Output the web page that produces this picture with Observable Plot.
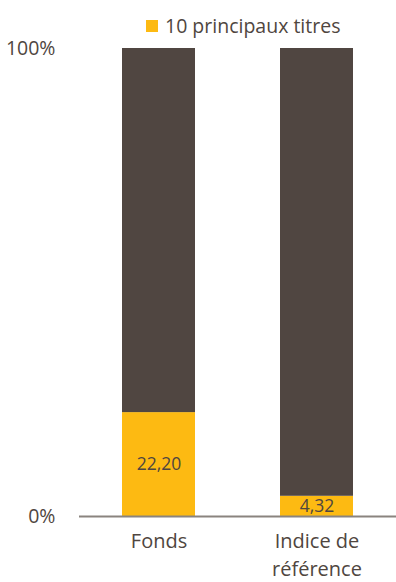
<!DOCTYPE html>
<html>
<head>
<meta charset="utf-8">
<script src="https://cdn.jsdelivr.net/npm/d3@7"></script>
<script src="https://cdn.jsdelivr.net/npm/@observablehq/plot@0.6"></script>
<style>
  body { margin: 0; background: #fff; font-family: "Open Sans", "Noto Sans", sans-serif; }
  #wrap { position: relative; width: 396px; height: 582px; }
  #legend { position: absolute; top: 12px; left: 146px; height: 26px; display: flex; align-items: center; color: #4f4640; font-size: 19.5px; white-space: nowrap; }
  #legend .sw { width: 12px; height: 12px; background: #FDBA12; margin-right: 7px; margin-top: 2px; }
  #chart svg { display: block; }
</style>
</head>
<body>
<div id="wrap">
<div id="chart"></div>
<div id="legend"><span class="sw"></span><span>10 principaux titres</span></div>
</div>
<script>
const categories = ["Fonds", "Indice de référence"];
const top10 = [22.20, 4.32];
const rest = [77.80, 95.68];
const valueLabels = ["22,20", "4,32"];
const tickLabels = ["0%", "100%"];
const tickValues = [0, 100];

const rows = [];
categories.forEach((c, i) => {
  rows.push({cat: c, series: "top", value: top10[i], label: valueLabels[i], order: 0});
  rows.push({cat: c, series: "rest", value: rest[i], label: "", order: 1});
});

const textColor = "#4f4640";
const chart = Plot.plot({
  width: 396,
  height: 582,
  marginTop: 48,
  marginBottom: 66,
  marginLeft: 79,
  marginRight: 0,
  style: {fontFamily: "'Open Sans', 'Noto Sans', sans-serif", fontSize: "17px", color: textColor, background: "#fff"},
  x: {domain: categories, paddingInner: 0.54, paddingOuter: 0.27, label: null, axis: null},
  y: {domain: [0, 100], label: null, axis: null},
  color: {domain: ["top", "rest"], range: ["#FDBA12", "#504641"]},
  marks: [
    Plot.barY(rows, Plot.stackY({x: "cat", y: "value", fill: "series", order: "order"})),
    Plot.text(rows.filter(d => d.label), {x: "cat", y: d => d.value / 2, text: "label", fill: textColor, fontSize: 17.5}),
    Plot.axisY({ticks: tickValues, tickFormat: (d) => tickLabels[tickValues.indexOf(d)], tickSize: 0, tickPadding: 24, fontSize: 19.5, label: null}),
    Plot.axisX({tickSize: 0, tickPadding: 12, fontSize: 20, lineHeight: 1.38, label: null, lineWidth: 10, tickFormat: d => d === "Indice de référence" ? "Indice de\nréférence" : d}),
    Plot.ruleY([0], {stroke: "#8a847f", strokeWidth: 2})
  ]
});
document.getElementById("chart").append(chart);
</script>
</body>
</html>
